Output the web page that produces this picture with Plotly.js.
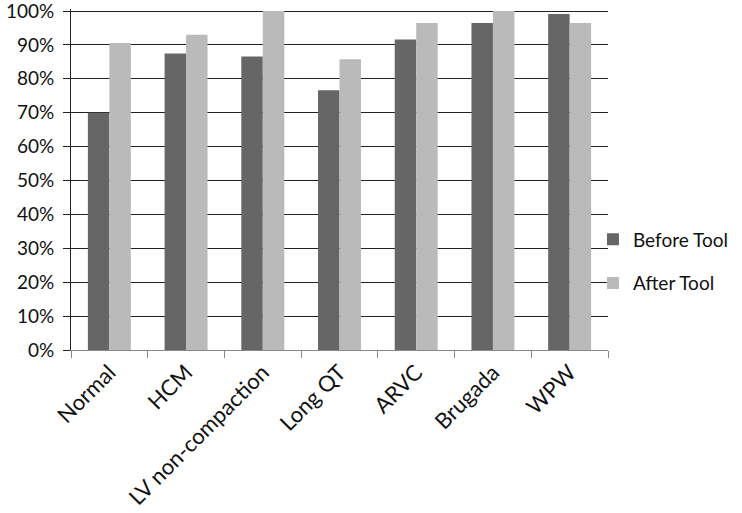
<!DOCTYPE html>
<html>
<head>
<meta charset="utf-8">
<script src="https://cdn.plot.ly/plotly-3.0.1.min.js"></script>
<style>html,body{margin:0;padding:0;background:#fff;}#chart{width:742px;height:513px;}</style>
</head>
<body>
<div id="chart"></div>
<script>
const categories = ["Normal", "HCM", "LV non-compaction", "Long QT", "ARVC", "Brugada", "WPW"];
const beforeTool = [0.70, 0.875, 0.866, 0.766, 0.916, 0.965, 0.991];
const afterTool = [0.906, 0.930, 1.00, 0.858, 0.965, 1.00, 0.965];
const seriesNames = ["Before Tool", "After Tool"];
const yTickVals = [0, 0.1, 0.2, 0.3, 0.4, 0.5, 0.6, 0.7, 0.8, 0.9, 1.0];
const yTickText = ["0%", "10%", "20%", "30%", "40%", "50%", "60%", "70%", "80%", "90%", "100%"];

const fontFam = "Lato, 'Open Sans', sans-serif";
const data = [
  {type: "bar", name: seriesNames[0], x: categories, y: beforeTool,
   marker: {color: "#666666"}, legendgroup: "a"},
  {type: "bar", name: seriesNames[1], x: categories, y: afterTool,
   marker: {color: "#bababa"}, legendgroup: "b"}
];
const layout = {
  width: 742, height: 513,
  margin: {l: 71, r: 131, t: 9, b: 163},
  paper_bgcolor: "#fff", plot_bgcolor: "#fff",
  barmode: "group", bargap: 0.44, bargroupgap: 0,
  font: {family: fontFam, size: 18, color: "#111"},
  xaxis: {
    type: "category", tickangle: -45, tickson: "boundaries",
    ticks: "outside", ticklen: 7, tickcolor: "#888",
    showline: true, linecolor: "#888", linewidth: 1,
    showgrid: false, tickfont: {family: fontFam, size: 22, color: "#111"}
  },
  yaxis: {
    range: [0, 1.006], tickvals: yTickVals, ticktext: yTickText,
    ticks: "outside", ticklen: 7, tickcolor: "#222", ticklabelstandoff: 5,
    ticklabeloverflow: "allow",
    showline: true, linecolor: "#222", linewidth: 1,
    showgrid: true, gridcolor: "#222", gridwidth: 1,
    zeroline: false, tickfont: {family: fontFam, size: 19, color: "#111"}
  },
  legend: {
    x: 0.972, xanchor: "left", y: 0.26, yanchor: "middle",
    font: {family: fontFam, size: 19, color: "#111"},
    traceorder: "grouped", tracegroupgap: 16, bgcolor: "rgba(0,0,0,0)"
  },
  showlegend: true
};
Plotly.newPlot("chart", data, layout, {displayModeBar: false, staticPlot: true});
</script>
</body>
</html>
